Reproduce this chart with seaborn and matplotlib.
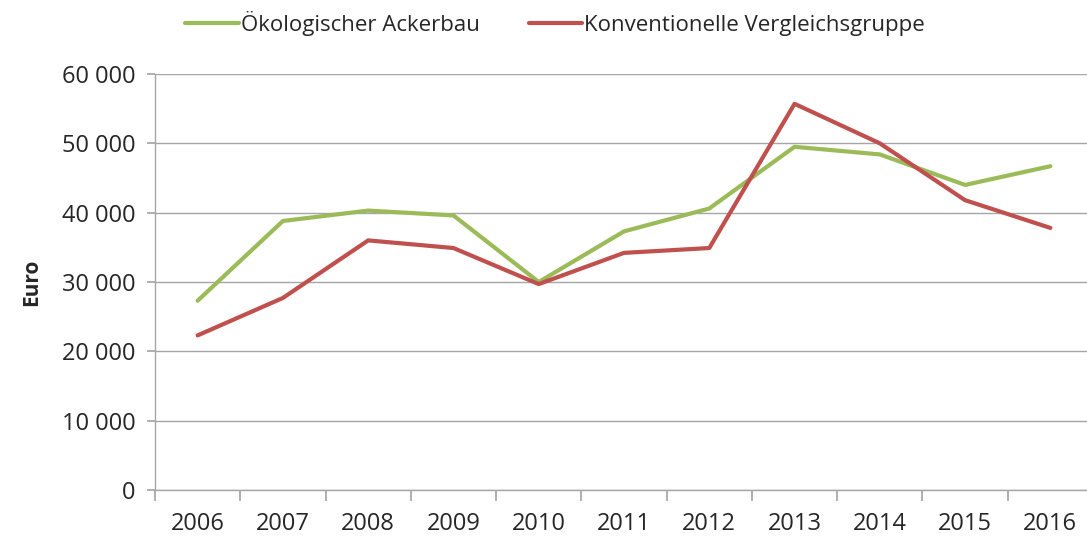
import seaborn as sns
import pandas as pd
import matplotlib.pyplot as plt
from matplotlib.ticker import FuncFormatter, MultipleLocator, FixedLocator

years = ["2006", "2007", "2008", "2009", "2010", "2011", "2012", "2013", "2014", "2015", "2016"]
oeko = [27300, 38800, 40300, 39600, 30000, 37300, 40600, 49500, 48400, 44000, 46700]
konv = [22300, 27700, 36000, 34900, 29700, 34200, 34900, 55700, 50000, 41800, 37800]
series_names = ["Ökologischer Ackerbau", "Konventionelle Vergleichsgruppe"]
colors = ["#9BBB59", "#C0504D"]

data = pd.DataFrame({
    "Jahr": years * 2,
    "Wert": oeko + konv,
    "Gruppe": [series_names[0]] * len(years) + [series_names[1]] * len(years),
})

sns.set_theme(style="white")
plt.rcParams["font.family"] = ["Open Sans", "DejaVu Sans"]

fig = plt.figure(figsize=(10.87, 5.40), dpi=100)
ax = fig.add_axes([155 / 1087, 50 / 540, (1093 - 155) / 1087, (490 - 74) / 540])

g = sns.lineplot(data=data, x="Jahr", y="Wert", hue="Gruppe", palette=colors,
                 linewidth=3, sort=False, ax=ax)

ax.set_xlim(-0.5, len(years) - 0.5)
ax.set_ylim(0, 60000)
ax.yaxis.set_major_locator(MultipleLocator(10000))
ax.yaxis.set_major_formatter(FuncFormatter(lambda v, p: f"{int(v):,}".replace(",", " ")))
ax.grid(axis="y", color="#a6a6a6", linewidth=1)
ax.set_axisbelow(True)

for s in ["top", "right"]:
    ax.spines[s].set_visible(False)
for s in ["left", "bottom"]:
    ax.spines[s].set_color("#a6a6a6")
    ax.spines[s].set_linewidth(1)

# category boundaries get the tick marks, labels sit in between
ax.xaxis.set_major_locator(FixedLocator([i - 0.5 for i in range(len(years) + 1)]))
ax.xaxis.set_major_formatter(FuncFormatter(lambda v, p: ""))
ax.xaxis.set_minor_locator(FixedLocator(list(range(len(years)))))
ax.set_xticklabels(years, minor=True)
ax.tick_params(axis="x", which="major", length=8, color="#a6a6a6", direction="out", bottom=True)
ax.tick_params(axis="x", which="minor", length=0, labelsize=17, colors="#262626", pad=16)
ax.tick_params(axis="y", length=6, color="#a6a6a6", direction="out", left=True,
               labelsize=17, labelcolor="#262626", pad=8)

ax.set_xlabel("")
ax.set_ylabel("Euro", fontsize=15, fontweight="bold", color="#262626", labelpad=14)

ax.legend(loc="upper center", bbox_to_anchor=(555 / 1087, 538 / 540), bbox_transform=fig.transFigure,
          ncol=2, frameon=False, fontsize=16, handlelength=2.4, handletextpad=0.1,
          columnspacing=2.2, labelcolor="#262626", borderaxespad=0)

plt.savefig("out.png", dpi=100)
